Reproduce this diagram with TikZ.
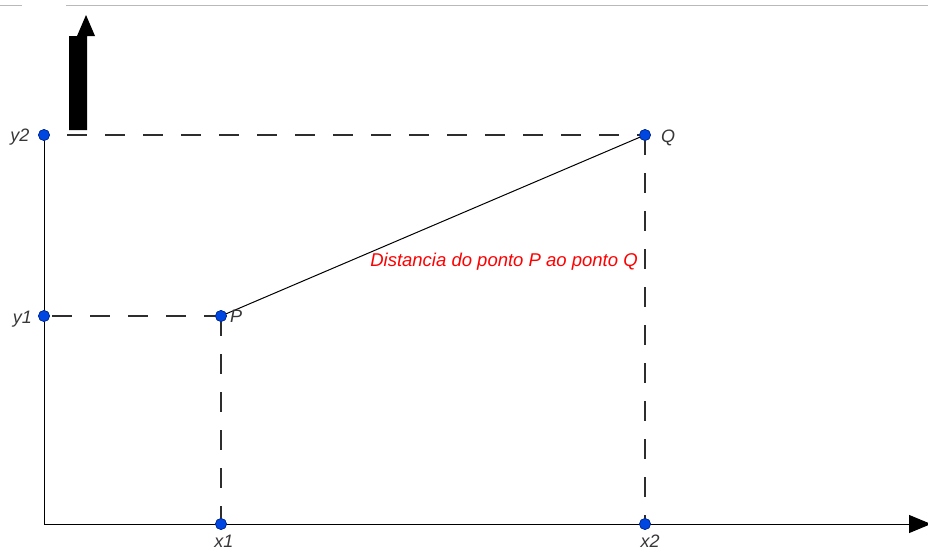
\documentclass[tikz,border=0pt]{standalone}
\usepackage{fontspec}
\setmainfont{Liberation Sans}
\usetikzlibrary{arrows.meta}
\definecolor{dotblue}{RGB}{0,70,225}
\definecolor{dotedge}{RGB}{0,40,150}
\definecolor{lblgray}{RGB}{55,55,55}
\definecolor{guidegray}{RGB}{45,45,45}
\begin{document}
\begin{tikzpicture}[x=1pt,y=-1pt,
  dot/.style={circle,inner sep=0pt,minimum size=11pt,fill=dotblue,draw=dotedge,line width=0.6pt},
  lbl/.style={text=lblgray,font=\fontsize{18}{20}\selectfont\itshape,inner sep=0pt,anchor=base},
  guide/.style={draw=guidegray,line width=1.3pt,dash pattern=on 20pt off 18pt},
  axis/.style={draw=black,line width=1pt}]
\clip (0,0) rectangle (928,552);
\useasboundingbox (0,0) rectangle (928,552);
% faint top line
\draw[gray!55,line width=1pt] (0,5) -- (22,5);
\draw[gray!55,line width=1pt] (66,5) -- (928,5);
% points
\coordinate (O) at (44,524);
\coordinate (xend) at (931,524);
\node[dot] (y2) at (44,135) {};
\node[dot] (y1) at (44,316) {};
\node[dot] (P) at (221,316) {};
\node[dot] (Q) at (645,135) {};
\node[dot] (x1) at (221,524) {};
\node[dot] (x2) at (645,524) {};
% guides
\draw[guide,dash phase=15pt] (y2.center) -- (Q.center);
\draw[guide,dash phase=30pt] (y1.center) -- (P.center);
\draw[guide] (Q.center) -- (x2.center);
\draw[guide] (P.center) -- (x1.center);
% axes
\draw[axis] (y2.center) -- (O);
\draw[axis,-{Triangle[length=22pt,width=18pt]}] (O) -- (xend);
% segment PQ
\draw[black,line width=1pt] (P.center) -- (Q.center);
% redraw dots on top
\foreach \p in {(44,135),(44,316),(221,316),(645,135),(221,524),(645,524)}
  \node[dot] at \p {};
% thick arrow
\fill[black] (69,130) -- (69,36) -- (77,36) -- (86,15) -- (95,36) -- (87,36) -- (87,130) -- cycle;
% labels
\node[lbl] (ly2) at (20,141) {y2};
\node[lbl] (ly1) at (22.5,323) {y1};
\node[lbl] (lP) at (236,322) {P};
\node[lbl] (lQ) at (668,142) {Q};
\node[lbl] (lx1) at (224,547) {x1};
\node[lbl] (lx2) at (650,547) {x2};
\node[text=red,font=\fontsize{18.5}{20}\selectfont\itshape,inner sep=0pt,anchor=base] (dist) at (504,266) {Distancia do ponto P ao ponto Q};
\end{tikzpicture}
\end{document}
